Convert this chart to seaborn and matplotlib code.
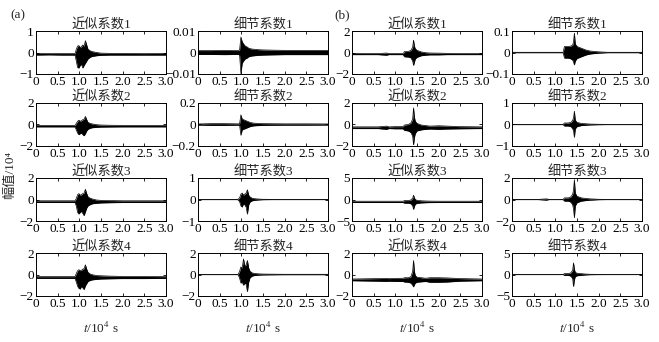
#####----- Wavelet approximation / detail coefficients of two seismic records, (a) and (b)

#####----- IMPORTS
import matplotlib
matplotlib.use("Agg")
import matplotlib.pyplot as plt
import seaborn as sns

#####----- DATA (envelope of each trace; time in 10^4 s)
t_a = [0, 0.3, 0.6, 0.9, 0.93, 0.96, 0.99, 1.02, 1.05, 1.08, 1.11, 1.14, 1.17, 1.2, 1.25, 1.3, 1.4, 1.5, 1.7, 2.0, 2.5, 3.0]
t_b = [0, 0.3, 0.6, 0.8, 0.85, 1.0, 1.18, 1.21, 1.3, 1.36, 1.4, 1.42, 1.44, 1.46, 1.5, 1.6, 1.7, 1.8, 2.0, 2.2, 2.5, 3.0]

# (a) approximation coefficients
a_approx1_hi = [-0.04, -0.05, -0.05, -0.05, 0.15, 0.3, 0.32, 0.22, 0.28, 0.35, 0.3, 0.55, 0.35, 0.15, 0.08, 0.04, 0.0, -0.03, -0.04, -0.04, -0.05, -0.04]
a_approx1_lo = [-0.12, -0.11, -0.12, -0.12, -0.4, -0.7, -0.72, -0.6, -0.55, -0.72, -0.6, -0.5, -0.4, -0.3, -0.22, -0.18, -0.15, -0.13, -0.12, -0.12, -0.12, -0.12]
a_approx2_hi = [-0.08, -0.08, -0.08, -0.08, 0.1, 0.3, 0.4, 0.3, 0.35, 0.45, 0.5, 0.75, 0.45, 0.2, 0.1, 0.05, -0.02, -0.05, -0.07, -0.08, -0.08, -0.08]
a_approx2_lo = [-0.22, -0.22, -0.22, -0.22, -0.5, -0.8, -0.95, -0.85, -0.8, -0.95, -1.05, -0.85, -0.6, -0.45, -0.35, -0.3, -0.26, -0.24, -0.23, -0.22, -0.22, -0.22]
a_approx3_hi = [-0.12, -0.12, -0.12, -0.12, 0.1, 0.45, 0.55, 0.4, 0.45, 0.55, 0.6, 0.95, 0.55, 0.25, 0.12, 0.05, -0.05, -0.08, -0.1, -0.12, -0.12, -0.12]
a_approx3_lo = [-0.28, -0.28, -0.28, -0.28, -0.6, -1.2, -1.35, -1.2, -1.1, -1.3, -1.5, -1.15, -0.8, -0.6, -0.48, -0.4, -0.35, -0.32, -0.3, -0.28, -0.28, -0.28]
a_approx4_hi = [-0.2, -0.2, -0.2, -0.2, 0.1, 0.35, 0.45, 0.35, 0.4, 0.5, 0.55, 0.9, 0.5, 0.2, 0.05, -0.02, -0.1, -0.12, -0.15, -0.18, -0.18, -0.2]
a_approx4_lo = [-0.36, -0.36, -0.36, -0.36, -0.7, -1.1, -1.3, -1.35, -1.1, -1.25, -1.4, -1.05, -0.85, -0.65, -0.55, -0.5, -0.45, -0.42, -0.4, -0.38, -0.38, -0.36]

# (a) detail coefficients
a_detail1_hi = [0.0009, 0.0009, 0.001, 0.0009, 0.0009, 0.0012, 0.0072, 0.005, 0.004, 0.0032, 0.0028, 0.0025, 0.002, 0.0018, 0.0016, 0.0015, 0.0013, 0.0012, 0.0011, 0.001, 0.001, 0.001]
a_detail1_lo = [-0.0009, -0.0009, -0.001, -0.0009, -0.0009, -0.0012, -0.0098, -0.005, -0.004, -0.0032, -0.0028, -0.0025, -0.002, -0.0018, -0.0016, -0.0015, -0.0013, -0.0012, -0.0011, -0.001, -0.001, -0.001]
a_detail2_hi = [0.005, 0.008, 0.008, 0.006, 0.006, 0.008, 0.09, 0.05, 0.045, 0.04, 0.035, 0.03, 0.025, 0.02, 0.015, 0.012, 0.01, 0.008, 0.007, 0.006, 0.006, 0.005]
a_detail2_lo = [-0.005, -0.008, -0.008, -0.006, -0.006, -0.008, -0.1, -0.05, -0.045, -0.04, -0.035, -0.03, -0.025, -0.02, -0.015, -0.012, -0.01, -0.008, -0.007, -0.006, -0.006, -0.005]
a_detail3_hi = [0.005, 0.005, 0.005, 0.005, 0.02, 0.08, 0.25, 0.3, 0.2, 0.25, 0.3, 0.45, 0.2, 0.12, 0.06, 0.04, 0.02, 0.01, 0.006, 0.005, 0.005, 0.005]
a_detail3_lo = [-0.005, -0.005, -0.005, -0.005, -0.02, -0.1, -0.3, -0.35, -0.2, -0.25, -0.35, -0.68, -0.25, -0.12, -0.06, -0.04, -0.02, -0.01, -0.006, -0.005, -0.005, -0.005]
a_detail4_hi = [0.01, 0.01, 0.01, 0.01, 0.03, 0.3, 0.7, 0.6, 1.45, 0.8, 0.9, 1.3, 0.6, 0.3, 0.15, 0.1, 0.06, 0.04, 0.03, 0.02, 0.02, 0.02]
a_detail4_lo = [-0.01, -0.01, -0.01, -0.01, -0.03, -0.35, -0.8, -0.7, -1.0, -0.8, -0.9, -1.6, -0.7, -0.3, -0.15, -0.1, -0.06, -0.04, -0.03, -0.02, -0.02, -0.02]

# (b) approximation coefficients
b_approx1_hi = [-0.08, -0.1, -0.1, -0.05, -0.1, -0.1, -0.1, 0.08, 0.1, 0.2, 0.5, 1.15, 0.6, 0.35, 0.2, 0.05, -0.02, -0.05, -0.06, -0.08, -0.1, -0.1]
b_approx1_lo = [-0.2, -0.2, -0.2, -0.25, -0.2, -0.2, -0.2, -0.4, -0.42, -0.5, -0.8, -1.2, -0.9, -0.6, -0.45, -0.3, -0.25, -0.22, -0.22, -0.2, -0.2, -0.2]
b_approx2_hi = [-0.22, -0.22, -0.22, -0.15, -0.22, -0.2, -0.2, -0.05, 0.0, 0.15, 0.5, 1.55, 0.7, 0.3, 0.1, -0.05, -0.1, -0.15, -0.12, -0.15, -0.2, -0.22]
b_approx2_lo = [-0.38, -0.38, -0.38, -0.45, -0.38, -0.4, -0.4, -0.55, -0.6, -0.75, -1.1, -1.9, -1.2, -0.85, -0.6, -0.5, -0.45, -0.42, -0.45, -0.42, -0.4, -0.38]
b_approx3_hi = [-0.4, -0.4, -0.4, -0.4, -0.4, -0.4, -0.4, -0.25, -0.25, -0.1, 0.3, 1.0, 0.4, 0.0, -0.2, -0.3, -0.35, -0.38, -0.4, -0.4, -0.4, -0.4]
b_approx3_lo = [-0.7, -0.7, -0.7, -0.7, -0.7, -0.7, -0.7, -0.85, -0.85, -1.0, -1.5, -2.3, -1.6, -1.1, -0.9, -0.8, -0.75, -0.72, -0.7, -0.7, -0.7, -0.7]
b_approx4_hi = [-0.42, -0.4, -0.38, -0.36, -0.38, -0.36, -0.35, -0.3, -0.3, -0.2, 0.3, 1.3, 0.3, -0.1, -0.25, -0.3, -0.35, -0.3, -0.3, -0.32, -0.38, -0.42]
b_approx4_lo = [-0.58, -0.6, -0.62, -0.64, -0.62, -0.64, -0.65, -0.7, -0.72, -0.8, -1.0, -1.15, -0.95, -0.8, -0.72, -0.68, -0.65, -0.72, -0.72, -0.7, -0.62, -0.58]

# (b) detail coefficients
b_detail1_hi = [0.001, 0.001, 0.001, 0.001, 0.001, 0.001, 0.001, 0.028, 0.028, 0.03, 0.035, 0.05, 0.09, 0.04, 0.028, 0.02, 0.012, 0.007, 0.003, 0.001, 0.001, 0.001]
b_detail1_lo = [-0.001, -0.001, -0.001, -0.001, -0.001, -0.001, -0.001, -0.026, -0.026, -0.03, -0.035, -0.045, -0.058, -0.04, -0.028, -0.02, -0.012, -0.007, -0.003, -0.001, -0.001, -0.001]
b_detail2_hi = [0.005, 0.005, 0.005, 0.005, 0.005, 0.005, 0.005, 0.07, 0.07, 0.1, 0.2, 0.3, 0.62, 0.2, 0.1, 0.05, 0.035, 0.02, 0.01, 0.005, 0.005, 0.005]
b_detail2_lo = [-0.005, -0.005, -0.005, -0.005, -0.005, -0.005, -0.005, -0.07, -0.07, -0.1, -0.2, -0.3, -0.6, -0.2, -0.1, -0.05, -0.035, -0.02, -0.01, -0.005, -0.005, -0.005]
b_detail3_hi = [0.01, 0.01, 0.01, 0.06, 0.01, 0.01, 0.01, 0.15, 0.15, 0.25, 0.5, 0.9, 1.85, 0.6, 0.3, 0.15, 0.1, 0.06, 0.02, 0.01, 0.01, 0.01]
b_detail3_lo = [-0.01, -0.01, -0.01, -0.06, -0.01, -0.01, -0.01, -0.15, -0.15, -0.25, -0.5, -0.9, -1.7, -0.6, -0.3, -0.15, -0.1, -0.06, -0.02, -0.01, -0.01, -0.01]
b_detail4_hi = [0.02, 0.02, 0.02, 0.02, 0.02, 0.02, 0.02, 0.2, 0.2, 0.4, 1.0, 2.7, 1.2, 0.5, 0.3, 0.2, 0.1, 0.05, 0.03, 0.02, 0.02, 0.02]
b_detail4_lo = [-0.02, -0.02, -0.02, -0.02, -0.02, -0.02, -0.02, -0.2, -0.2, -0.4, -1.0, -2.8, -1.2, -0.5, -0.3, -0.2, -0.1, -0.05, -0.03, -0.02, -0.02, -0.02]

titles_approx = ["近似系数1", "近似系数2", "近似系数3", "近似系数4"]
titles_detail = ["细节系数1", "细节系数2", "细节系数3", "细节系数4"]
x_ticks = [0, 0.5, 1.0, 1.5, 2.0, 2.5, 3.0]
x_ticklabels = ["0", "0.5", "1.0", "1.5", "2.0", "2.5", "3.0"]
ylim_a_approx = [1, 2, 2, 2]
ylim_a_detail = [0.01, 0.2, 1, 2]
ylim_b_approx = [2, 2, 5, 2]
ylim_b_detail = [0.1, 1, 2, 5]

#####----- STYLE
sns.set_theme(style="ticks")
plt.rcParams['font.family'] = ['Liberation Serif', 'Noto Sans CJK SC', 'DejaVu Sans']
plt.rcParams['mathtext.fontset'] = 'stix'
plt.rcParams['axes.unicode_minus'] = True
FS = 9.5

#####----- LAYOUT (pixels of a 659x342 figure)
W, H = 659, 342
col_left = [36, 198, 352, 512]
col_w = 130
row_top = [31, 103, 178, 253]
row_h = 43

columns = [
    (t_a, [a_approx1_hi, a_approx2_hi, a_approx3_hi, a_approx4_hi],
     [a_approx1_lo, a_approx2_lo, a_approx3_lo, a_approx4_lo], titles_approx, ylim_a_approx),
    (t_a, [a_detail1_hi, a_detail2_hi, a_detail3_hi, a_detail4_hi],
     [a_detail1_lo, a_detail2_lo, a_detail3_lo, a_detail4_lo], titles_detail, ylim_a_detail),
    (t_b, [b_approx1_hi, b_approx2_hi, b_approx3_hi, b_approx4_hi],
     [b_approx1_lo, b_approx2_lo, b_approx3_lo, b_approx4_lo], titles_approx, ylim_b_approx),
    (t_b, [b_detail1_hi, b_detail2_hi, b_detail3_hi, b_detail4_hi],
     [b_detail1_lo, b_detail2_lo, b_detail3_lo, b_detail4_lo], titles_detail, ylim_b_detail),
]


def fmt(v):
    return "{:g}".format(v).replace("-", "\u2212")


fig = plt.figure(figsize=(W / 100, H / 100), dpi=100)

for c, (t, his, los, titles, ylims) in enumerate(columns):
    for r in range(4):
        ax = fig.add_axes([col_left[c] / W, 1 - (row_top[r] + row_h) / H, col_w / W, row_h / H])
        ax.fill_between(t, los[r], his[r], color='black', linewidth=0)
        sns.lineplot(x=t, y=his[r], ax=ax, color='black', linewidth=0.5)
        sns.lineplot(x=t, y=los[r], ax=ax, color='black', linewidth=0.5)

        lim = ylims[r]
        ax.set_xlim(0, 3.0)
        ax.set_ylim(-lim, lim)
        ax.set_xticks(x_ticks)
        ax.set_xticklabels(x_ticklabels, fontsize=FS)
        ax.set_yticks([-lim, 0, lim])
        ax.set_yticklabels([fmt(-lim), "0", fmt(lim)], fontsize=FS)
        ax.tick_params(direction='in', length=2.5, width=0.6, pad=1.5,
                       top=True, right=True, colors='black')
        for s in ax.spines.values():
            s.set_linewidth(0.7)
            s.set_color('black')
        ax.set_title(titles[r], fontsize=FS, pad=2)
        ax.set_xlabel("")
        ax.set_ylabel("")
        if r == 3:
            ax.set_xlabel("$\\mathit{t}$/10$^4$ s", fontsize=FS, labelpad=8)

fig.text(10 / W, 1 - 15 / H, "(a)", fontsize=FS, ha='left', va='center')
fig.text(334 / W, 1 - 15 / H, "(b)", fontsize=FS, ha='left', va='center')
fig.text(10 / W, 1 - 175 / H, "幅值/10\u2074", fontsize=FS, rotation=90, ha='center', va='center')

fig.savefig("out.png", dpi=100)
